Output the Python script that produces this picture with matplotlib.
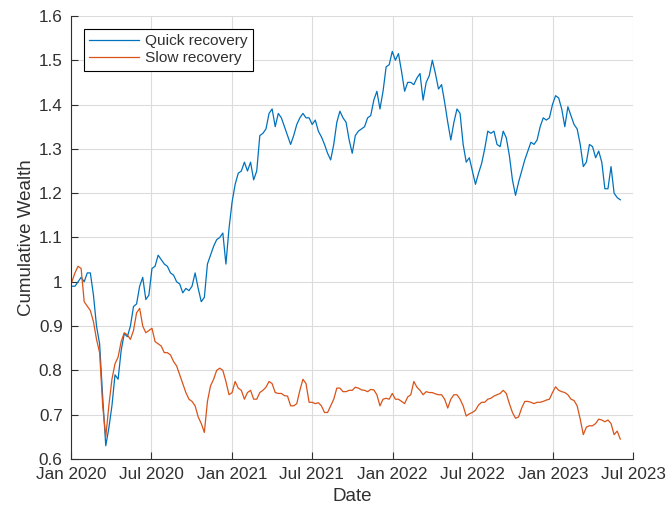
import matplotlib
matplotlib.use("Agg")
import matplotlib.pyplot as plt
import matplotlib.dates as mdates
import pandas as pd

# Weekly observations (Fridays)
dates = pd.date_range("2020-01-03", "2023-06-02", freq="7D")

quick_recovery = [
    # 2020
    0.99, 0.99, 1.00, 1.01, 1.00, 1.02, 1.02, 0.97, 0.90, 0.86,
    0.74, 0.63, 0.67, 0.72, 0.79, 0.78, 0.845, 0.883, 0.876, 0.90,
    0.944, 0.95, 0.99, 1.01, 0.96, 0.97, 1.03, 1.035, 1.06, 1.05,
    1.04, 1.035, 1.02, 1.015, 1.00, 0.995, 0.975, 0.985, 0.98, 0.99,
    1.02, 0.985, 0.955, 0.965, 1.04, 1.06, 1.08, 1.095, 1.10, 1.11,
    1.04, 1.12,
    # 2021
    1.18, 1.22, 1.245, 1.25, 1.27, 1.25, 1.27, 1.23, 1.25, 1.33,
    1.335, 1.345, 1.38, 1.39, 1.35, 1.38, 1.37, 1.35, 1.33, 1.31,
    1.33, 1.355, 1.37, 1.38, 1.37, 1.37, 1.355, 1.365, 1.34, 1.327,
    1.31, 1.29, 1.275, 1.31, 1.36, 1.385, 1.37, 1.36, 1.32, 1.29,
    1.33, 1.34, 1.345, 1.35, 1.37, 1.375, 1.41, 1.43, 1.39, 1.43,
    1.485, 1.49, 1.52,
    # 2022
    1.50, 1.515, 1.475, 1.43, 1.45, 1.45, 1.445, 1.46, 1.47, 1.41,
    1.45, 1.465, 1.50, 1.47, 1.435, 1.445, 1.405, 1.36, 1.32, 1.36,
    1.39, 1.38, 1.31, 1.27, 1.28, 1.25, 1.22, 1.245, 1.267, 1.30,
    1.34, 1.335, 1.34, 1.31, 1.305, 1.34, 1.325, 1.285, 1.23, 1.195,
    1.225, 1.25, 1.275, 1.295, 1.315, 1.31, 1.32, 1.35, 1.37, 1.365,
    1.37, 1.40,
    # 2023
    1.42, 1.415, 1.39, 1.35, 1.395, 1.375, 1.355, 1.345, 1.31, 1.26,
    1.27, 1.31, 1.305, 1.28, 1.295, 1.27, 1.21, 1.21, 1.26, 1.20,
    1.19, 1.185,
]

slow_recovery = [
    # 2020
    1.00, 1.02, 1.035, 1.03, 0.955, 0.945, 0.935, 0.91, 0.87, 0.84,
    0.72, 0.65, 0.72, 0.78, 0.815, 0.83, 0.865, 0.885, 0.88, 0.87,
    0.89, 0.93, 0.94, 0.90, 0.885, 0.89, 0.895, 0.865, 0.86, 0.855,
    0.84, 0.84, 0.835, 0.82, 0.81, 0.79, 0.77, 0.75, 0.735, 0.73,
    0.72, 0.695, 0.68, 0.66, 0.73, 0.765, 0.78, 0.80, 0.805, 0.80,
    0.775, 0.745,
    # 2021
    0.75, 0.775, 0.76, 0.755, 0.735, 0.75, 0.755, 0.735, 0.735, 0.75,
    0.755, 0.762, 0.775, 0.77, 0.75, 0.748, 0.748, 0.743, 0.742, 0.72,
    0.72, 0.725, 0.755, 0.78, 0.77, 0.728, 0.728, 0.725, 0.727, 0.72,
    0.705, 0.705, 0.72, 0.735, 0.76, 0.76, 0.752, 0.752, 0.755, 0.755,
    0.762, 0.76, 0.756, 0.755, 0.752, 0.757, 0.756, 0.745, 0.72, 0.735,
    0.737, 0.735, 0.748,
    # 2022
    0.735, 0.735, 0.73, 0.725, 0.74, 0.745, 0.775, 0.762, 0.755, 0.745,
    0.752, 0.75, 0.75, 0.747, 0.745, 0.745, 0.735, 0.715, 0.735, 0.745,
    0.745, 0.735, 0.72, 0.697, 0.702, 0.705, 0.71, 0.722, 0.728, 0.728,
    0.735, 0.737, 0.742, 0.745, 0.748, 0.755, 0.748, 0.725, 0.705, 0.692,
    0.695, 0.715, 0.73, 0.73, 0.728, 0.725, 0.728, 0.728, 0.73, 0.733,
    0.735, 0.75,
    # 2023
    0.763, 0.755, 0.752, 0.75, 0.745, 0.735, 0.732, 0.72, 0.69, 0.655,
    0.672, 0.675, 0.675, 0.68, 0.69, 0.688, 0.684, 0.688, 0.68, 0.655,
    0.663, 0.645,
]

series_labels = ["Quick recovery", "Slow recovery"]
x_ticks = pd.date_range("2020-01-01", "2023-07-01", freq="6MS")
y_ticks = [0.6, 0.7, 0.8, 0.9, 1.0, 1.1, 1.2, 1.3, 1.4, 1.5, 1.6]
y_tick_labels = ["0.6", "0.7", "0.8", "0.9", "1", "1.1", "1.2", "1.3", "1.4", "1.5", "1.6"]

plt.rcParams["font.family"] = ["Liberation Sans", "DejaVu Sans"]
axis_gray = "#303030"

fig = plt.figure(figsize=(6.66, 5.14), dpi=100)
ax = fig.add_axes([0.1066, 0.107, 0.8439, 0.862])

ax.plot(dates, quick_recovery, color="#0072BD", lw=0.9, label=series_labels[0])
ax.plot(dates, slow_recovery, color="#D95319", lw=0.9, label=series_labels[1])

ax.set_xlim(x_ticks[0], x_ticks[-1])
ax.set_ylim(0.6, 1.6)
ax.set_xticks(x_ticks)
ax.xaxis.set_major_formatter(mdates.DateFormatter("%b %Y"))
ax.set_yticks(y_ticks)
ax.set_yticklabels(y_tick_labels)

ax.grid(True, color="#dcdcdc", lw=0.8)
ax.set_axisbelow(True)
for side in ("top", "right"):
    ax.spines[side].set_visible(False)
for side in ("left", "bottom"):
    ax.spines[side].set_color(axis_gray)
    ax.spines[side].set_linewidth(0.8)
ax.tick_params(direction="in", length=5, width=0.8, colors=axis_gray,
               labelsize=12.3, pad=6)

ax.set_xlabel("Date", fontsize=13.5, color=axis_gray, labelpad=4)
ax.set_ylabel("Cumulative Wealth", fontsize=13.5, color=axis_gray, labelpad=3)

leg = ax.legend(loc="upper left", bbox_to_anchor=(0.023, 0.971), borderaxespad=0,
                fontsize=11.1, handlelength=3.2, handletextpad=0.4,
                labelspacing=0.2, borderpad=0.35, fancybox=False, framealpha=1)
leg.get_frame().set_edgecolor("black")
leg.get_frame().set_linewidth(0.8)
for t in leg.get_texts():
    t.set_color(axis_gray)

fig.savefig("out.png", dpi=100)
